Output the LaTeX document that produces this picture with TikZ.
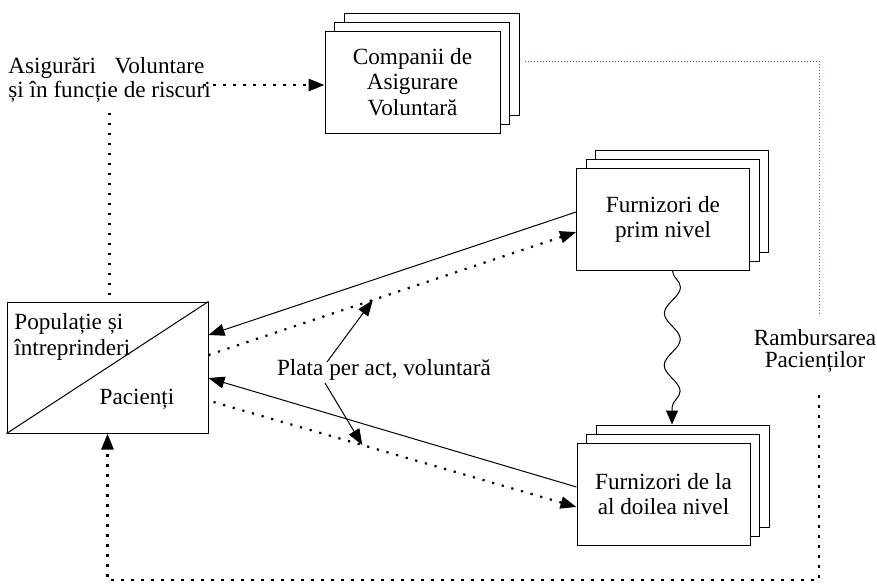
\documentclass[tikz,border=0pt]{standalone}
\usepackage{fontspec}
\setmainfont{Liberation Serif}
\usetikzlibrary{arrows.meta}
\usetikzlibrary{shadows}
\usetikzlibrary{calc}
\usetikzlibrary{decorations.pathmorphing}
\definecolor{rambdot}{RGB}{105,105,55}
\newcommand{\diagfont}{\fontsize{11.6}{12.6}\selectfont}

\begin{document}
\begin{tikzpicture}[x=0.5pt,y=-0.5pt,
  every node/.style={font=\diagfont, inner sep=0pt},
  stackbox/.style={draw, fill=white, line width=0.5pt, align=center,
    minimum width=86.5pt, minimum height=51pt,
    copy shadow={shadow xshift=9.5pt, shadow yshift=9pt, draw=black, fill=white},
    copy shadow={shadow xshift=4.75pt, shadow yshift=4.5pt, draw=black, fill=white}},
  solidarr/.style={line width=0.5pt, -{Triangle[length=8pt,width=6pt]}},
  dotarr/.style={line width=1.1pt, dash pattern=on 1.1pt off 3.9pt, -{Triangle[length=8pt,width=6pt]}},
  heavydots/.style={line width=1.4pt, dash pattern=on 1.4pt off 3.6pt},
  faintdots/.style={rambdot, line width=0.5pt, dash pattern=on 0.5pt off 1pt}]
\useasboundingbox (0,0) rectangle (877,586);

\node[stackbox, minimum width=87.5pt](comp) at (412.5,82) {Companii de\\Asigurare\\Voluntară};
\node[stackbox](prim) at (663,219.5) {Furnizori de\\prim nivel};
\node[stackbox](second) at (663.5,494) {Furnizori de la\\al doilea nivel};

\node[draw, line width=0.5pt, minimum width=100.5pt, minimum height=65.5pt](pop) at (107.5,367.5) {};
\draw[line width=0.5pt] (pop.south west) -- (pop.north east);
\node[anchor=west, align=left](poptext) at (14,337) {Populație și\\întreprinderi};
\node(pac) at (137,399.5) {Pacienți};

\node[anchor=west, align=left, font=\fontsize{11.6}{9.8}\selectfont](asig) at (8,80)
  {Asigurări\hspace{0.8em}Voluntare\\și în funcție de riscuri};
\node[align=center, font=\fontsize{11.6}{10.6}\selectfont](ramb) at (815,351) {Rambursarea\\Pacienților};
\node(plata) at (384,369.5) {Plata per act, voluntară};

\coordinate (ctop) at (525,61);
\coordinate (cright) at (819,61);
\coordinate (cmid) at (819,315);
\coordinate (cback) at (819,395);
\coordinate (cbottom) at (819,580);

% payments between patients and providers
\draw[solidarr] ($(prim.west)+(0,-7.5)$) -- ($(pop.east)+(0,-32.5)$);
\draw[dotarr] ($(pop.east)+(0,-12.5)$) -- coordinate[pos=0.447](pb) ($(prim.west)+(0,12.5)$);
\draw[solidarr] ($(second.west)+(0,-7)$) -- ($(pop.east)+(0,10.5)$);
\draw[dotarr] ($(pop.east)+(5,34.5)$) -- coordinate[pos=0.41](pd) ($(second.west)+(0,13)$);
\draw[solidarr] ($(plata.center)+(-57,-7.5)$) -- (pb);
\draw[solidarr] ($(plata.center)+(-59,13.5)$) -- (pd);

\draw[line width=0.5pt, decorate, decoration={snake, amplitude=4pt, segment length=26pt, post length=6pt},
  -{Triangle[length=7pt,width=6pt]}] ($(prim.south)+(9.5,0)$) -- ($(second.north)+(8.5,-18)$);

% voluntary insurance
\draw[heavydots] ($(asig.south -| pop.north)+(2,10)$) -- ($(pop.north)+(2,0)$);
\draw[heavydots, -{Triangle[length=8pt,width=6pt]}] ($(asig.east |- comp.west)+(-8,3)$) -- ($(comp.west)+(0,3)$);
\draw[faintdots] (ctop) -- (cright) -- (cmid);
\draw[heavydots, -{Triangle[length=8pt,width=6pt]}] (cback) -- (cbottom) -| (pop.south);
\end{tikzpicture}
\end{document}
